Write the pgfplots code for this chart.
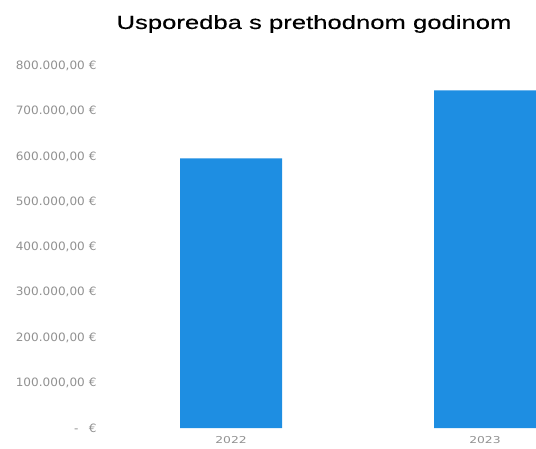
\documentclass[border=0pt]{standalone}
\usepackage{pgfplots}
\pgfplotsset{compat=1.18}
\usepackage{fontspec}
\setmainfont{DejaVu Sans}
\newfontfamily\titlefont[FakeStretch=1.35,FakeBold=0.25]{Liberation Sans}
\newfontfamily\tickfont[FakeStretch=1.05]{DejaVu Sans}
\newfontfamily\yearfont[FakeStretch=1.3]{DejaVu Sans}
\definecolor{barblue}{RGB}{30,142,226}
\definecolor{lbl}{RGB}{145,145,145}
\begin{document}
\begin{tikzpicture}
\useasboundingbox (0,0) rectangle (536pt,448pt);
\clip (0,0) rectangle (536pt,448pt);
\node[font=\titlefont\fontsize{19}{22}\selectfont] at (314pt,424pt) {Usporedba s prethodnom godinom};
\begin{axis}[
	at={(100pt,20pt)}, anchor=south west,
	scale only axis,
	width=436pt, height=362pt,
	ybar, bar width=102pt,
	xmin=-0.516, xmax=1.2008,
	ymin=0, ymax=800000,
	axis line style={draw=none},
	tick style={draw=none},
	xtick={0,1}, xticklabels={2022,2023},
	ytick={0,100000,200000,300000,400000,500000,600000,700000,800000},
	yticklabels={{-\hspace{0.9em}€},{100.000,00 €},{200.000,00 €},{300.000,00 €},{400.000,00 €},{500.000,00 €},{600.000,00 €},{700.000,00 €},{800.000,00 €}},
	yticklabel style={font=\tickfont\fontsize{11.5}{13}\selectfont, text=lbl, anchor=east, xshift=0pt},
	xticklabel style={font=\yearfont\fontsize{9.5}{11}\selectfont, text=lbl, yshift=-1pt},
	scaled y ticks=false,
	clip=false]
	\addplot[fill=barblue, draw=none] coordinates {(0,596000) (1,746000)};
\end{axis}
\end{tikzpicture}
\end{document}
